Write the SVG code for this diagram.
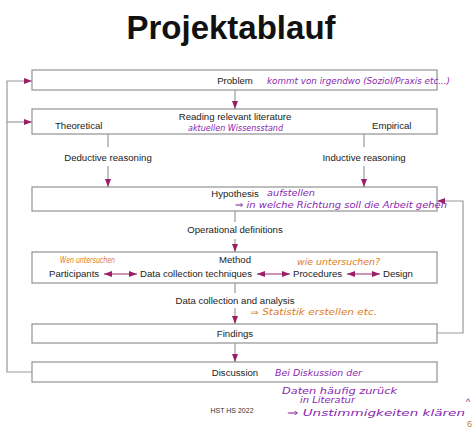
<svg xmlns="http://www.w3.org/2000/svg" width="474" height="428" viewBox="0 0 474 428">
<style>
.box{fill:#fff;stroke:#9a9a9a;stroke-width:1.3}
.ln{fill:none;stroke:#9a9a9a;stroke-width:1.2}
.dl{fill:none;stroke:#9b2a72;stroke-width:1.2}
.t{font-family:"Liberation Sans",Arial,sans-serif;font-size:9.6px;fill:#222}
.tm{text-anchor:middle}
.hp{font-family:"DejaVu Sans","Liberation Sans",sans-serif;font-style:italic;font-size:9px;fill:#8a1fb0}
.ho{font-family:"DejaVu Sans","Liberation Sans",sans-serif;font-style:italic;font-size:8px;fill:#e07a1c}
</style>
<defs>
<marker id="ah" viewBox="0 0 8 6" refX="8" refY="3" markerWidth="8" markerHeight="6" markerUnits="userSpaceOnUse" orient="auto">
<path d="M0,0 L8,3 L0,6 z" fill="#9b1f66"/>
</marker>
<marker id="as" viewBox="0 0 8 6" refX="0" refY="3" markerWidth="8" markerHeight="6" markerUnits="userSpaceOnUse" orient="auto">
<path d="M8,0 L0,3 L8,6 z" fill="#9b1f66"/>
</marker>
</defs>
<rect width="474" height="428" fill="#fff"/>
<text x="231" y="39" text-anchor="middle" font-family="'Liberation Sans',Arial,sans-serif" font-weight="bold" font-size="33" fill="#111">Projektablauf</text>

<g id="problem">
<rect class="box" x="32" y="70" width="405" height="20"/>
<text class="t tm" x="235" y="84">Problem</text>
<text class="hp" x="267" y="84" textLength="183" lengthAdjust="spacingAndGlyphs">kommt von irgendwo (Soziol/Praxis etc...)</text>
</g>

<g id="reading">
<rect class="box" x="32" y="109" width="405" height="25"/>
<text class="t tm" x="235" y="120">Reading relevant literature</text>
<text class="t" x="55" y="129">Theoretical</text>
<text class="t" x="372" y="129">Empirical</text>
<text class="hp" x="188" y="131" textLength="95" lengthAdjust="spacingAndGlyphs">aktuellen Wissensstand</text>
</g>

<g id="hypothesis">
<rect class="box" x="32" y="187" width="405" height="24"/>
<text class="t tm" x="235" y="197">Hypothesis</text>
<text class="hp" x="267" y="196" textLength="48" lengthAdjust="spacingAndGlyphs">aufstellen</text>
<text class="hp" x="235" y="208" textLength="212" lengthAdjust="spacingAndGlyphs">⇒ in welche Richtung soll die Arbeit gehen</text>
</g>

<g id="method">
<rect class="box" x="32" y="252" width="405" height="31"/>
<text class="t tm" x="235" y="263">Method</text>
<text class="t" x="49" y="277">Participants</text>
<text class="t" x="140" y="277">Data collection techniques</text>
<text class="t" x="293" y="277">Procedures</text>
<text class="t" x="383" y="277">Design</text>
<text class="ho" x="60" y="263" textLength="55" lengthAdjust="spacingAndGlyphs">Wen untersuchen</text>
<text class="ho" x="297" y="265" textLength="83" lengthAdjust="spacingAndGlyphs">wie untersuchen?</text>
</g>

<g id="findings">
<rect class="box" x="32" y="324" width="405" height="19"/>
<text class="t tm" x="235" y="337">Findings</text>
<text class="ho" x="250" y="315" textLength="127" lengthAdjust="spacingAndGlyphs">⇒ Statistik erstellen etc.</text>
</g>

<g id="discussion">
<rect class="box" x="32" y="362" width="405" height="20"/>
<text class="t tm" x="235" y="376">Discussion</text>
<text class="hp" x="275" y="376" textLength="87" lengthAdjust="spacingAndGlyphs">Bei Diskussion der</text>
</g>

<g id="connectors">
<path class="ln" d="M32,372 H7 V81 H32" marker-end="url(#ah)"/>
<path class="ln" d="M7,122 H32" marker-end="url(#ah)"/>
<path class="ln" d="M437,333 H463 V201 H437" marker-end="url(#ah)"/>
<path class="ln" d="M235,90 V109" marker-end="url(#ah)"/>
<path class="ln" d="M108,134 V147"/>
<path class="ln" d="M108,166 V187" marker-end="url(#ah)"/>
<path class="ln" d="M364,134 V147"/>
<path class="ln" d="M364,166 V187" marker-end="url(#ah)"/>
<path class="ln" d="M235,211 V222"/>
<path class="ln" d="M235,239 V252" marker-end="url(#ah)"/>
<path class="ln" d="M235,283 V293"/>
<path class="ln" d="M235,308 V324" marker-end="url(#ah)"/>
<path class="ln" d="M235,343 V362" marker-end="url(#ah)"/>
<path class="dl" d="M104,274 H137" marker-start="url(#as)" marker-end="url(#ah)"/>
<path class="dl" d="M257,274 H290" marker-start="url(#as)" marker-end="url(#ah)"/>
<path class="dl" d="M347,274 H380" marker-start="url(#as)" marker-end="url(#ah)"/>
<text class="t tm" x="108" y="161">Deductive reasoning</text>
<text class="t tm" x="364" y="161">Inductive reasoning</text>
<text class="t tm" x="235" y="233">Operational definitions</text>
<text class="t tm" x="235" y="304">Data collection and analysis</text>
</g>

<text class="hp" x="282" y="394" textLength="115" lengthAdjust="spacingAndGlyphs">Daten häufig zurück</text>
<text class="hp" x="300" y="403" textLength="55" lengthAdjust="spacingAndGlyphs">in Literatur</text>
<text class="hp" x="287" y="416" font-size="11" textLength="178" lengthAdjust="spacingAndGlyphs">⇒ Unstimmigkeiten klären</text>
<text x="232" y="413" text-anchor="middle" font-family="'Liberation Sans',Arial,sans-serif" font-size="7" fill="#333">HST HS 2022</text>
<text x="466" y="405" font-family="'Liberation Sans',Arial,sans-serif" font-size="9" fill="#8a1fb0">^</text>
<text x="467" y="427" font-family="'Liberation Sans',Arial,sans-serif" font-size="9" fill="#c07a30">6</text>
</svg>
